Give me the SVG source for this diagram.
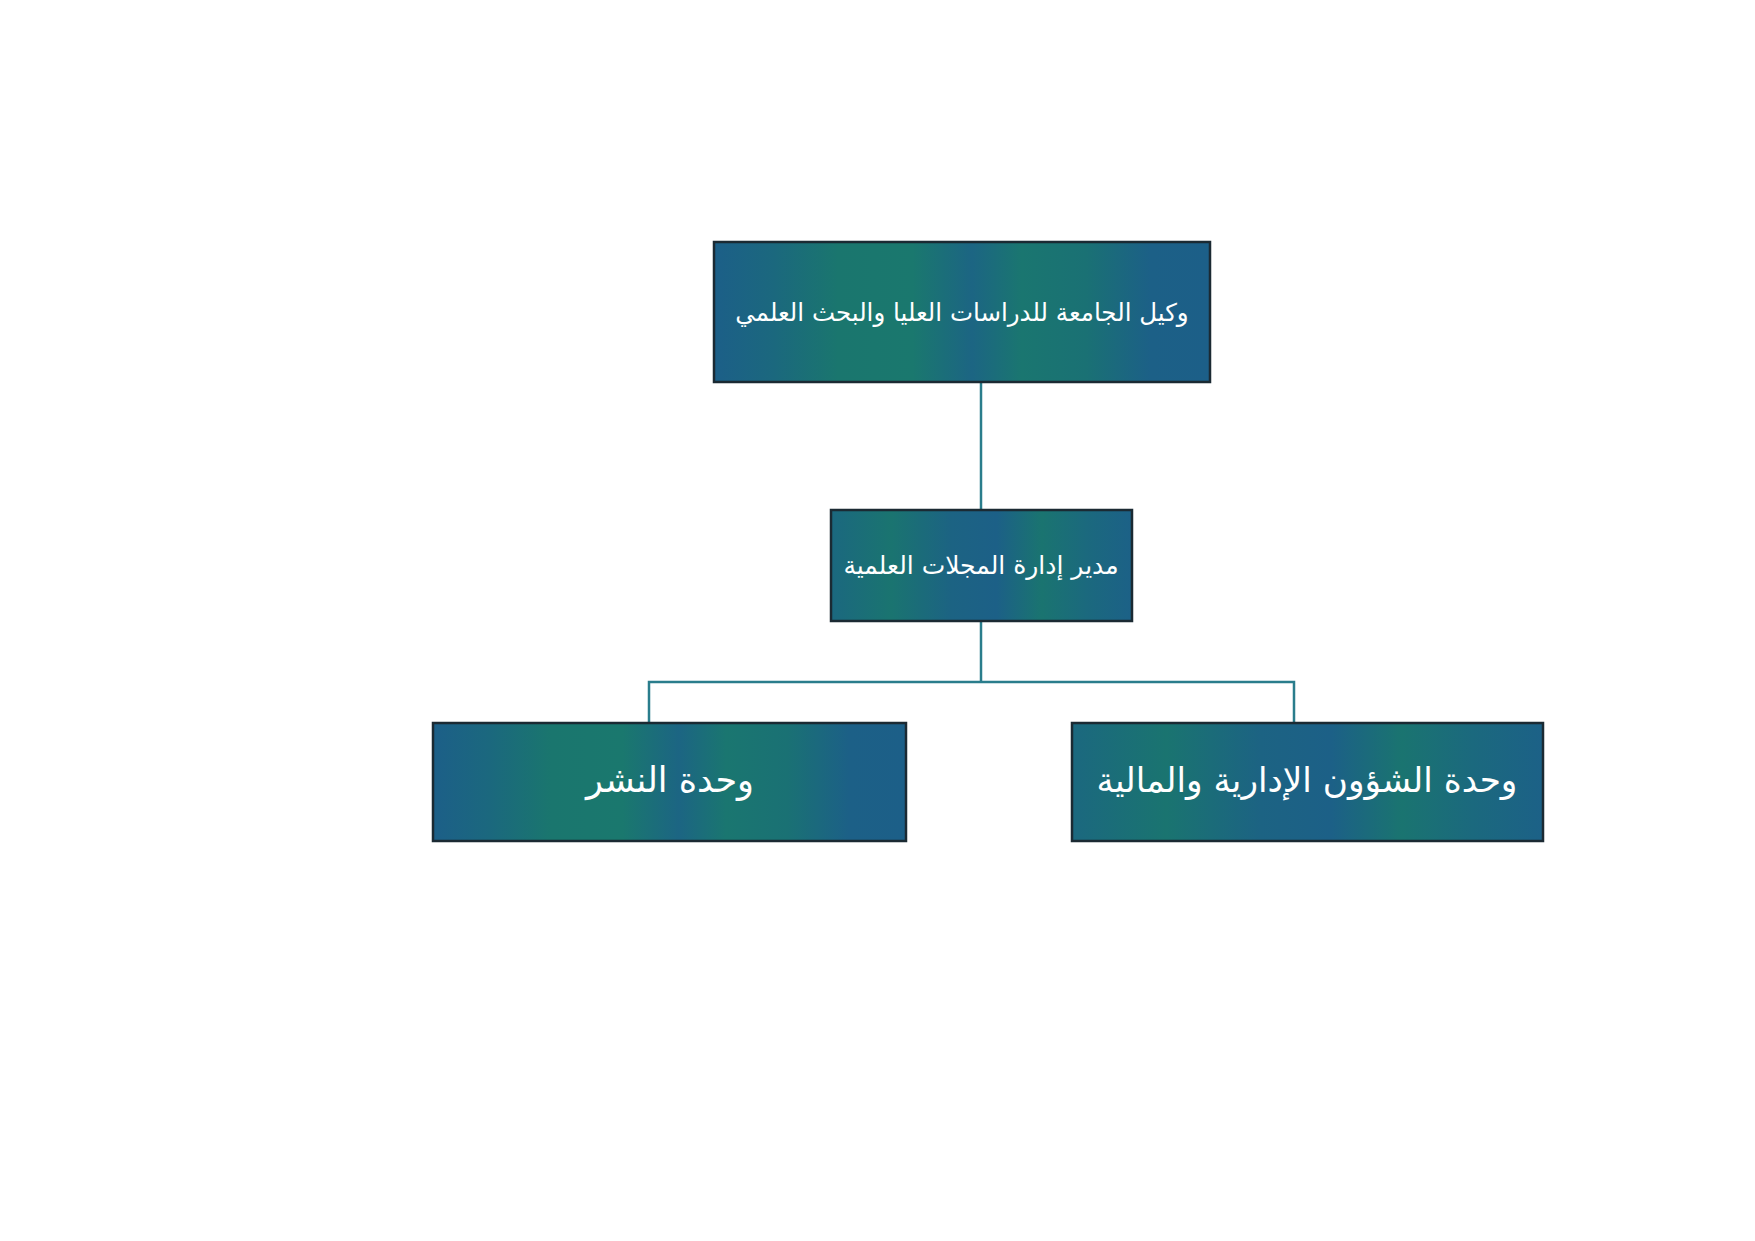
<svg xmlns="http://www.w3.org/2000/svg" width="1755" height="1241" viewBox="0 0 1755 1241">
<style>
.box{stroke:#1b2a33;stroke-width:2.5}
.lbl{fill:#ffffff;font-family:"DejaVu Sans","Liberation Sans",sans-serif;text-anchor:middle;direction:rtl}
.conn{fill:none;stroke:#2a7d8c;stroke-width:2.5}
</style>
<defs>
<linearGradient id="g1" x1="0" y1="0" x2="1" y2="0">
<stop offset="0" stop-color="#1c5f88"/>
<stop offset="0.12" stop-color="#1b687e"/>
<stop offset="0.25" stop-color="#1a766e"/>
<stop offset="0.4" stop-color="#1a786e"/>
<stop offset="0.52" stop-color="#1c6583"/>
<stop offset="0.62" stop-color="#1a7670"/>
<stop offset="0.75" stop-color="#1a7174"/>
<stop offset="0.88" stop-color="#1c6087"/>
<stop offset="1" stop-color="#1c5f88"/>
</linearGradient>
<linearGradient id="g2" x1="0" y1="0" x2="1" y2="0">
<stop offset="0" stop-color="#1b687f"/>
<stop offset="0.2" stop-color="#1a7470"/>
<stop offset="0.4" stop-color="#1c6383"/>
<stop offset="0.55" stop-color="#1c6087"/>
<stop offset="0.7" stop-color="#1a7470"/>
<stop offset="0.85" stop-color="#1b697e"/>
<stop offset="1" stop-color="#1c6187"/>
</linearGradient>
</defs>
<rect width="1755" height="1241" fill="#ffffff"/>
<g id="connectors">
<line class="conn" x1="981" y1="382" x2="981" y2="510"/>
<line class="conn" x1="981" y1="621" x2="981" y2="682"/>
<polyline class="conn" points="649,723 649,682 1294,682 1294,723"/>
</g>
<g id="node-vice-rector">
<rect class="box" x="714" y="242" width="496" height="140" fill="url(#g1)"/>
<text class="lbl" x="962" y="321" font-size="24.5">وكيل الجامعة للدراسات العليا والبحث العلمي</text>
</g>
<g id="node-director">
<rect class="box" x="831" y="510" width="301" height="111" fill="url(#g2)"/>
<text class="lbl" x="981" y="574" font-size="25">مدير إدارة المجلات العلمية</text>
</g>
<g id="node-publishing">
<rect class="box" x="433" y="723" width="473" height="118" fill="url(#g1)"/>
<text class="lbl" x="670" y="792" font-size="35">وحدة النشر</text>
</g>
<g id="node-admin-finance">
<rect class="box" x="1072" y="723" width="471" height="118" fill="url(#g2)"/>
<text class="lbl" x="1307" y="792" font-size="34.3">وحدة الشؤون الإدارية والمالية</text>
</g>
</svg>
